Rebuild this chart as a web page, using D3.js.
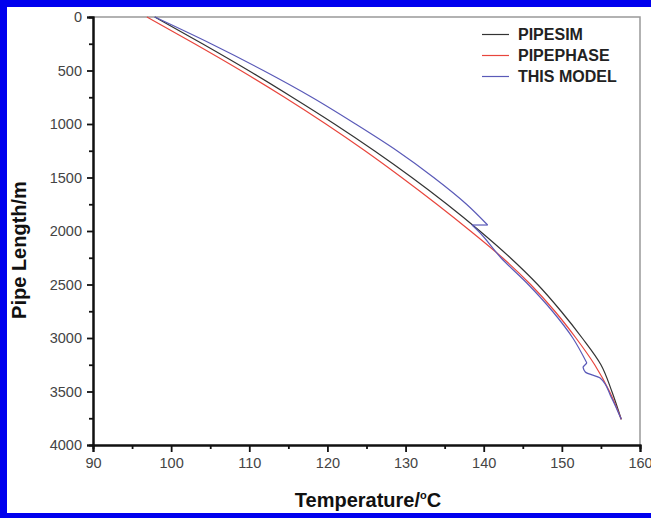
<!DOCTYPE html>
<html><head><meta charset="utf-8">
<script src="https://cdn.jsdelivr.net/npm/d3@7"></script>
<style>body{margin:0;background:#fff}svg{display:block}</style>
</head><body>
<script>
const xTicks = [90,100,110,120,130,140,150,160];
const yTicks = [0,500,1000,1500,2000,2500,3000,3500,4000];
const seriesNames = ["PIPESIM","PIPEPHASE","THIS MODEL"];
const seriesColors = ["#333333","#e8453c","#5a5ab8"];
// [temperature °C, pipe length m]
const pipesim = [[97.9,0],[104.0,250],[109.9,500],[115.5,750],[120.9,1000],[126.0,1250],[130.8,1500],[135.3,1750],[139.5,2000],[143.4,2250],[146.9,2500],[149.9,2750],[152.6,3000],[155.0,3250],[156.4,3500],[157.6,3760]];
const pipephase = [[96.9,0],[103.0,250],[108.9,500],[114.5,750],[119.8,1000],[124.8,1250],[129.5,1500],[134.0,1750],[138.3,2000],[142.4,2250],[146.0,2500],[149.1,2750],[151.8,3000],[154.2,3250],[156.1,3500],[157.6,3760]];
const thisModel = [[97.9,0],[105.1,250],[111.8,500],[118.0,750],[123.6,1000],[128.9,1250],[133.6,1500],[137.8,1750],[140.5,1944],[138.5,1944],[139.3,2000],[142.2,2250],[145.7,2500],[148.8,2750],[151.4,3000],[153.2,3234],[152.7,3271],[153.0,3318],[154.9,3374],[156.3,3550],[157.6,3760]];
const allSeries = [pipesim, pipephase, thisModel];

const W = 651, H = 518;
const svg = d3.select("body").append("svg").attr("width",W).attr("height",H);
svg.append("rect").attr("width",W).attr("height",H).attr("fill","#fff");
svg.append("rect").attr("x",0).attr("y",0).attr("width",W).attr("height",7).attr("fill","#0000ee");
svg.append("rect").attr("x",0).attr("y",0).attr("width",7).attr("height",H).attr("fill","#0000ee");
svg.append("rect").attr("x",0).attr("y",513).attr("width",W).attr("height",5).attr("fill","#0000ee");

const x = d3.scaleLinear().domain([90,160]).range([93,640]);
const y = d3.scaleLinear().domain([0,4000]).range([17,445]);

svg.append("path").attr("d",`M${x(90)},${y(0)}H${x(160)}V${y(4000)}`).attr("fill","none").attr("stroke","#999").attr("stroke-width",1.5);

const smooth = d3.line().x(d=>x(d[0])).y(d=>y(d[1])).curve(d3.curveMonotoneY);
const straight = d3.line().x(d=>x(d[0])).y(d=>y(d[1]));
function drawSeries(s, color){
  let runs = [], cur = [s[0]];
  for (let k=1;k<s.length;k++){
    const ok = s[k][1] > s[k-1][1] && s[k][0] > s[k-1][0];
    if (ok) cur.push(s[k]);
    else { runs.push({pts:cur,smooth:true}); runs.push({pts:[s[k-1],s[k]],smooth:false}); cur=[s[k]]; }
  }
  runs.push({pts:cur,smooth:true});
  runs.forEach(r=>{
    if (r.pts.length<2) return;
    svg.append("path").attr("d",(r.smooth?smooth:straight)(r.pts)).attr("fill","none")
      .attr("stroke",color).attr("stroke-width",1.2).attr("stroke-linejoin","round");
  });
}
allSeries.forEach((s,i)=>drawSeries(s, seriesColors[i]));

const fontTick = "'Liberation Sans', Arial, sans-serif";
const xMinor = d3.range(95,160,10);
const yMinor = d3.range(250,4000,500);
const xAxis = svg.append("g").attr("transform",`translate(0,${y(4000)})`)
  .call(d3.axisBottom(x).tickValues(xTicks).tickSize(7).tickPadding(6).tickFormat(d3.format("d")));
const xAxisMinor = svg.append("g").attr("transform",`translate(0,${y(4000)})`)
  .call(d3.axisBottom(x).tickValues(xMinor).tickSize(4).tickFormat(""));
const yAxis = svg.append("g").attr("transform",`translate(${x(90)},0)`)
  .call(d3.axisLeft(y).tickValues(yTicks).tickSize(6).tickPadding(5).tickFormat(d3.format("d")));
const yAxisMinor = svg.append("g").attr("transform",`translate(${x(90)},0)`)
  .call(d3.axisLeft(y).tickValues(yMinor).tickSize(4).tickFormat(""));
[xAxis,yAxis,xAxisMinor,yAxisMinor].forEach(g=>{
  g.select(".domain").attr("stroke","#111").attr("stroke-width",2);
  g.selectAll(".tick line").attr("stroke","#111").attr("stroke-width",1.8);
  g.selectAll(".tick text").attr("fill","#444").style("font-family",fontTick).style("font-size","14.5px");
});

svg.append("text").attr("transform",`translate(26,250) rotate(-90)`)
  .attr("text-anchor","middle").style("font-family",fontTick).style("font-weight","bold").style("font-size","20px").attr("fill","#111")
  .text("Pipe Length/m");
const tt = svg.append("text").attr("x",368).attr("y",507).attr("text-anchor","middle")
  .style("font-family",fontTick).style("font-weight","bold").style("font-size","20px").attr("fill","#111");
tt.append("tspan").text("Temperature/");
tt.append("tspan").attr("dy",-8).style("font-size","11px").text("o");
tt.append("tspan").attr("dy",8).text("C");

const lg = svg.append("g").attr("transform","translate(482,34.5)");
seriesNames.forEach((n,i)=>{
  const g = lg.append("g").attr("transform",`translate(0,${i*21})`);
  g.append("line").attr("x1",0).attr("x2",27).attr("y1",0).attr("y2",0).attr("stroke",seriesColors[i]).attr("stroke-width",1.2);
  g.append("text").attr("x",36).attr("y",5.5).style("font-family",fontTick).style("font-weight","bold").style("font-size","16px").attr("fill","#222").text(n);
});
</script>
</body></html>
